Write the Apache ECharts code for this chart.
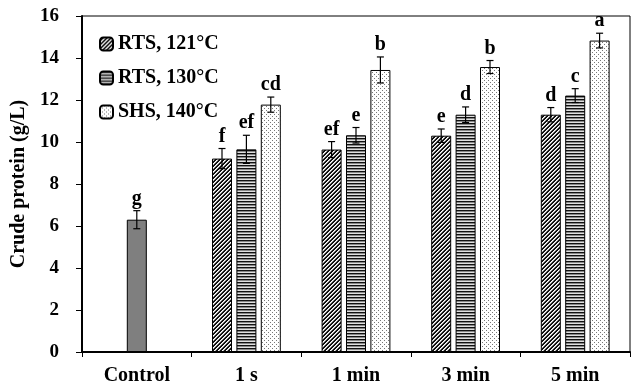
<!DOCTYPE html>
<html><head><meta charset="utf-8">
<script src="https://cdn.jsdelivr.net/npm/echarts@6/dist/echarts.min.js"></script>
<style>html,body{margin:0;padding:0;background:#fff}#c{width:633px;height:388px}</style>
</head><body><div id="c"></div>
<script>
const categories = ['Control', '1 s', '1 min', '3 min', '5 min'];
const controlVal = [6.30];
const controlErr = [0.43];
const controlLetter = ['g'];
const seriesNames = ['RTS, 121°C', 'RTS, 130°C', 'SHS, 140°C'];
const rts121 = [9.21, 9.64, 10.30, 11.30];
const rts121Err = [0.48, 0.38, 0.32, 0.34];
const rts121Letters = ['f', 'ef', 'e', 'd'];
const rts130 = [9.65, 10.32, 11.30, 12.21];
const rts130Err = [0.67, 0.37, 0.37, 0.33];
const rts130Letters = ['ef', 'e', 'd', 'c'];
const shs140 = [11.78, 13.43, 13.57, 14.83];
const shs140Err = [0.36, 0.62, 0.31, 0.35];
const shs140Letters = ['cd', 'b', 'b', 'a'];

const FONT = '"Liberation Serif", "Times New Roman", serif';
const BAR_W = 20, GAP = 4.4;

function makePattern(w, h, fn) {
  const c = document.createElement('canvas');
  c.width = w; c.height = h;
  const ctx = c.getContext('2d');
  ctx.fillStyle = '#fff'; ctx.fillRect(0, 0, w, h);
  for (let y = 0; y < h; y++) for (let x = 0; x < w; x++) {
    const col = fn(x, y);
    if (col) { ctx.fillStyle = col; ctx.fillRect(x, y, 1, 1); }
  }
  return { image: c, repeat: 'repeat' };
}
const diagPat = makePattern(4, 4, (x, y) => ((x + y) % 4 >= 2 ? '#111' : ((x + y) % 4 === 1 ? '#bbb' : null)));
const horizPat = makePattern(1, 3, (x, y) => (y === 0 ? '#111' : (y === 1 ? '#888' : '#e0e0e0')));
const dotPat = makePattern(4, 4, (x, y) => ((x === 0 && y === 0) || (x === 2 && y === 2) ? '#777' : null));
const patterns = [diagPat, horizPat, dotPat];

const groups = [
  { vals: rts121, errs: rts121Err, letters: rts121Letters },
  { vals: rts130, errs: rts130Err, letters: rts130Letters },
  { vals: shs140, errs: shs140Err, letters: shs140Letters }
];

function errItem(offset) {
  return function (params, api) {
    const cat = api.value(0);
    const v = api.value(1), e = api.value(2);
    const c = api.coord([cat, v]);
    const x = c[0] + offset;
    const top = api.coord([cat, v + e])[1];
    const bot = api.coord([cat, v - e])[1];
    const cap = 3.5;
    const st = { stroke: '#000', lineWidth: 1.2 };
    return {
      type: 'group',
      children: [
        { type: 'line', shape: { x1: x, y1: top, x2: x, y2: bot }, style: st },
        { type: 'line', shape: { x1: x - cap, y1: top, x2: x + cap, y2: top }, style: st },
        { type: 'line', shape: { x1: x - cap, y1: bot, x2: x + cap, y2: bot }, style: st },
        { type: 'text', x: x, y: top - 2, style: { text: api.value(3), font: 'bold 20px ' + FONT, fill: '#000', align: 'center', verticalAlign: 'bottom' } }
      ]
    };
  };
}

const series = [];
groups.forEach((g, k) => {
  series.push({
    name: seriesNames[k], type: 'bar', xAxisIndex: 0,
    barWidth: BAR_W, barGap: (GAP / BAR_W * 100) + '%',
    data: [null].concat(g.vals),
    itemStyle: { color: patterns[k], borderColor: '#000', borderWidth: 1 },
    emphasis: { disabled: true }, animation: false
  });
});
series.push({
  name: 'Control', type: 'bar', xAxisIndex: 1, barWidth: BAR_W,
  data: controlVal.concat([null, null, null, null]),
  itemStyle: { color: '#7f7f7f', borderColor: '#000', borderWidth: 1 },
  animation: false
});
groups.forEach((g, k) => {
  const offset = (k - 1) * (BAR_W + GAP);
  series.push({
    type: 'custom', xAxisIndex: 0, renderItem: errItem(offset),
    data: g.vals.map((v, i) => [i + 1, v, g.errs[i], g.letters[i]]),
    z: 10, animation: false, silent: true
  });
});
series.push({
  type: 'custom', xAxisIndex: 1, renderItem: errItem(0),
  data: controlVal.map((v, i) => [i, v, controlErr[i], controlLetter[i]]),
  z: 10, animation: false, silent: true
});

const chart = echarts.init(document.getElementById('c'));
chart.setOption({
  animation: false,
  grid: { left: 82, right: 3, top: 16, bottom: 36, show: true, borderColor: '#000', borderWidth: 1 },
  legend: {
    data: seriesNames, orient: 'vertical', left: 94, top: 29,
    itemWidth: 13, itemHeight: 13, itemGap: 14,
    textStyle: { fontFamily: FONT, fontWeight: 'bold', fontSize: 20, color: '#000' },
    selectedMode: false
  },
  xAxis: [
    {
      type: 'category', data: categories,
      axisLine: { lineStyle: { color: '#000', width: 2 } },
      axisTick: { show: true, length: 5, lineStyle: { color: '#000', width: 1 } },
      axisLabel: { fontFamily: FONT, fontWeight: 'bold', fontSize: 20, color: '#000', margin: 14 },
      splitLine: { show: false }
    },
    {
      type: 'category', data: categories, show: false, position: 'bottom'
    }
  ],
  yAxis: {
    type: 'value', min: 0, max: 16, interval: 2,
    name: 'Crude protein (g/L)', nameLocation: 'middle', nameGap: 44, nameRotate: 90,
    nameTextStyle: { fontFamily: FONT, fontWeight: 'bold', fontSize: 20, color: '#000' },
    axisLine: { show: true, lineStyle: { color: '#000', width: 2 } },
    axisTick: { show: true, length: 6, lineStyle: { color: '#000', width: 1 } },
    axisLabel: { fontFamily: FONT, fontWeight: 'bold', fontSize: 19, color: '#000', margin: 23 },
    splitLine: { show: false }
  },
  series: series
});
</script></body></html>
